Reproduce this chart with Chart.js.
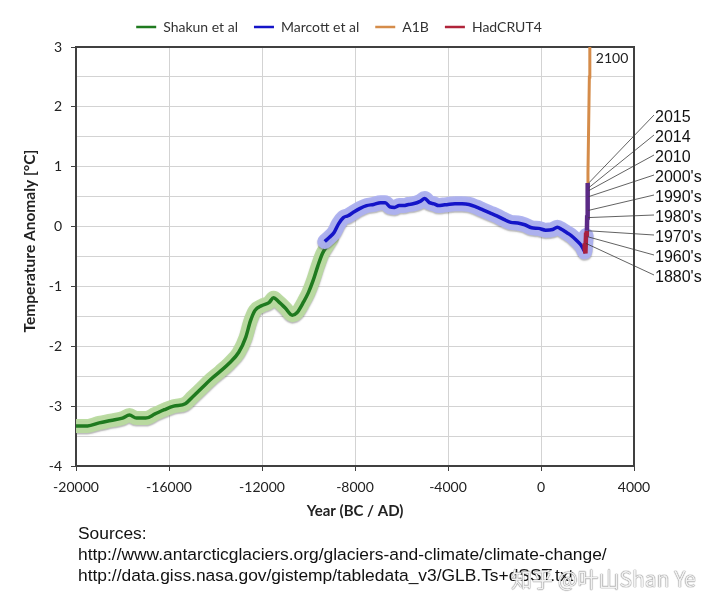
<!DOCTYPE html>
<html>
<head>
<meta charset="utf-8">
<script src="https://cdn.jsdelivr.net/npm/chart.js@4.4.1/dist/chart.umd.min.js"></script>
<style>
  html, body { margin: 0; padding: 0; background: #ffffff; }
  #wrap { position: relative; width: 720px; height: 608px; overflow: hidden; background: #fff; }
  #c { position: absolute; left: 0; top: 0; }
  #sources { position: absolute; left: 78px; top: 523px; font-family: "Liberation Sans", Arial, sans-serif; font-size: 17.4px; line-height: 21px; color: #111; white-space: nowrap; }
  #wm { position: absolute; left: 511px; top: 563px; font-family: "Noto Sans CJK SC", "Noto Sans", sans-serif; font-size: 21px; color: rgba(255,255,255,0.92); text-shadow: 0 0 1px rgba(90,90,90,0.9), 0 0 1px rgba(90,90,90,0.9); white-space: nowrap; }
</style>
</head>
<body>
<div id="wrap">
  <canvas id="c" width="720" height="608"></canvas>
  <div id="sources">Sources:<br>http://www.antarcticglaciers.org/glaciers-and-climate/climate-change/<br>http://data.giss.nasa.gov/gistemp/tabledata_v3/GLB.Ts+dSST.txt</div>
  <div id="wm">知乎 @叶山Shan Ye</div>
</div>
<script>
// ---- data ----
const seriesNames = ["Shakun et al", "Marcott et al", "A1B", "HadCRUT4"];

const shakunYears = [-20000,-19500,-19000,-18500,-18000,-17700,-17400,-17000,-16600,-16200,-15800,-15300,-15000,-14600,-14200,-13800,-13400,-13000,-12700,-12500,-12300,-12000,-11700,-11500,-11300,-11000,-10700,-10500,-10200,-10000,-9800,-9600,-9400,-9200,-9000];
const shakunTemps = [-3.33,-3.33,-3.28,-3.24,-3.2,-3.15,-3.2,-3.2,-3.13,-3.06,-3.0,-2.96,-2.85,-2.7,-2.55,-2.42,-2.28,-2.1,-1.85,-1.58,-1.4,-1.32,-1.27,-1.19,-1.25,-1.36,-1.48,-1.44,-1.25,-1.1,-0.9,-0.66,-0.45,-0.32,-0.2];

const marcottYears = [-9300,-9100,-8900,-8700,-8500,-8300,-8100,-7800,-7500,-7200,-6900,-6700,-6500,-6300,-6100,-5900,-5700,-5500,-5200,-5000,-4800,-4600,-4400,-4200,-4000,-3700,-3400,-3100,-2800,-2500,-2200,-1900,-1600,-1300,-1000,-700,-400,-100,200,500,700,900,1100,1300,1500,1700,1800,1880,1940];
const marcottTemps = [-0.25,-0.18,-0.1,0.05,0.15,0.18,0.23,0.3,0.35,0.37,0.4,0.4,0.33,0.32,0.35,0.35,0.37,0.38,0.42,0.47,0.4,0.38,0.35,0.36,0.37,0.38,0.38,0.37,0.33,0.28,0.23,0.18,0.12,0.07,0.06,0.03,-0.02,-0.03,-0.06,-0.05,-0.01,-0.05,-0.1,-0.15,-0.22,-0.3,-0.36,-0.42,-0.15];

const a1bYears = [2000, 2020, 2050, 2080, 2100];
const a1bTemps = [0.55, 0.9, 1.7, 2.5, 3.05];

const hadcrutYears = [1850,1880,1900,1910,1940,1965,1975,1985,1995,2005,2010,2014,2015];
const hadcrutTemps = [-0.4,-0.28,-0.4,-0.45,-0.1,-0.17,-0.07,0.15,0.27,0.5,0.6,0.65,0.73];

const annoLabels = ["2015","2014","2010","2000's","1990's","1980's","1970's","1960's","1880's"];
const annoYears  = [2015, 2014, 2010, 2005, 1995, 1985, 1975, 1965, 1885];
const annoTemps  = [0.73, 0.65, 0.6, 0.5, 0.27, 0.15, -0.07, -0.17, -0.28];

const endLabel = "2100";
const endYear = 2100;

const xMin = -20000, xMax = 4000, xStep = 4000;
const yMin = -4, yMax = 3, yStep = 0.5;

// ---- helpers ----
const pts = (xs, ys) => xs.map((x, i) => ({ x: x, y: ys[i] }));
const AXIS = '#404040';
const GRID = '#d3d3d3';
const FONT = 'Lato, "Open Sans", sans-serif';

const bandShadow = {
  id: 'bandShadow',
  beforeDatasetDraw(chart, args) {
    const ds = chart.data.datasets[args.index];
    if (ds._band) {
      const ctx = chart.ctx;
      ctx.save();
      ctx.shadowColor = 'rgba(90,90,90,0.45)';
      ctx.shadowOffsetY = 1.5;
      ctx.shadowBlur = 1.5;
    }
  },
  afterDatasetDraw(chart, args) {
    const ds = chart.data.datasets[args.index];
    if (ds._band) chart.ctx.restore();
  }
};

const annotations = {
  id: 'annotations',
  afterDraw(chart) {
    const ctx = chart.ctx;
    const xs = chart.scales.x, ys = chart.scales.y;
    const area = chart.chartArea;
    ctx.save();
    ctx.font = '14px ' + FONT;
    ctx.fillStyle = '#222';
    ctx.textBaseline = 'middle';
    ctx.textAlign = 'left';
    ctx.fillText(endLabel, xs.getPixelForValue(endYear) + 6, area.top + 11);
    ctx.font = '16px "Liberation Sans", Arial, sans-serif';
    const lx = area.right + 21;
    annoLabels.forEach((lab, i) => {
      const ly = area.top + 71 + i * 20;
      const px = xs.getPixelForValue(annoYears[i]) + 1;
      const py = ys.getPixelForValue(annoTemps[i]);
      ctx.strokeStyle = '#3a3a3a';
      ctx.lineWidth = 0.8;
      ctx.beginPath();
      ctx.moveTo(px, py);
      ctx.lineTo(lx - 1, ly - 3);
      ctx.stroke();
      ctx.fillStyle = '#111';
      ctx.fillText(lab, lx, ly);
    });
    ctx.restore();
  }
};

new Chart(document.getElementById('c'), {
  type: 'line',
  data: {
    datasets: [
      { label: seriesNames[0], data: pts(shakunYears, shakunTemps), borderColor: '#1f7a1f', backgroundColor: '#1f7a1f', borderWidth: 3.5, pointRadius: 0, cubicInterpolationMode: 'monotone', borderJoinStyle: 'round', order: 4 },
      { label: seriesNames[1], data: pts(marcottYears, marcottTemps), borderColor: '#1414c8', backgroundColor: '#1414c8', borderWidth: 3.5, pointRadius: 0, cubicInterpolationMode: 'monotone', borderJoinStyle: 'round', order: 2 },
      { label: seriesNames[2], data: pts(a1bYears, a1bTemps), borderColor: '#d58c4a', backgroundColor: '#d58c4a', borderWidth: 3, pointRadius: 0, order: 1 },
      { label: seriesNames[3], data: pts(hadcrutYears, hadcrutTemps), borderColor: '#b0243a', backgroundColor: '#b0243a', borderWidth: 4.5, pointRadius: 0, order: 0,
        segment: { borderColor: c => (c.p1.parsed.y > 0.05 ? '#5b2a86' : '#a8203e') } },
      { label: 'band-m', _band: true, data: pts(marcottYears, marcottTemps), borderColor: 'rgba(172,176,240,0.95)', borderWidth: 15, pointRadius: 0, cubicInterpolationMode: 'monotone', borderJoinStyle: 'round', borderCapStyle: 'round', order: 3 },
      { label: 'band-s', _band: true, data: pts(shakunYears, shakunTemps), borderColor: 'rgba(184,218,158,0.95)', borderWidth: 14, pointRadius: 0, cubicInterpolationMode: 'monotone', borderJoinStyle: 'round', borderCapStyle: 'round', order: 5 }
    ]
  },
  options: {
    responsive: false,
    animation: false,
    events: [],
    layout: { padding: { left: 0, right: 42, top: 4, bottom: 82 } },
    plugins: {
      tooltip: { enabled: false },
      legend: {
        display: true,
        position: 'top',
        labels: {
          usePointStyle: true,
          pointStyle: 'line',
          pointStyleWidth: 20,
          boxHeight: 14,
          padding: 16,
          color: '#333',
          font: { family: FONT, size: 14 },
          generateLabels(chart) {
            const items = Chart.defaults.plugins.legend.labels.generateLabels(chart);
            return items.filter(it => it.datasetIndex < 4)
              .sort((a, b) => a.datasetIndex - b.datasetIndex)
              .map(it => Object.assign(it, { lineWidth: 2.5, pointStyle: 'line' }));
          }
        }
      }
    },
    scales: {
      x: {
        type: 'linear', position: 'bottom', min: xMin, max: xMax,
        ticks: { stepSize: xStep, color: '#222', font: { family: FONT, size: 14 }, padding: 8, maxRotation: 0, autoSkip: false,
          callback: v => String(v) },
        grid: { color: GRID, lineWidth: 1, tickColor: AXIS, tickLength: 5 },
        border: { color: AXIS, width: 2 },
        title: { display: true, text: 'Year (BC / AD)', color: '#222', font: { family: FONT, size: 15, weight: 'bold' }, padding: { top: 2, bottom: 6 } },
        afterFit(s) { s.height = 60; }
      },
      xTop: {
        type: 'linear', position: 'top', min: xMin, max: xMax,
        ticks: { display: false },
        grid: { display: false, drawTicks: false },
        border: { display: true, color: AXIS, width: 2 },
        afterFit(s) { s.height = 3; }
      },
      y: {
        type: 'linear', position: 'left', min: yMin, max: yMax,
        ticks: { stepSize: yStep, autoSkip: false, color: '#222', font: { family: FONT, size: 14 }, padding: 9,
          callback: v => (Number.isInteger(v) ? String(v) : '') },
        grid: { color: GRID, lineWidth: 1, tickLength: 5,
          tickColor: c => (c.tick && Number.isInteger(c.tick.value) ? AXIS : 'rgba(0,0,0,0)') },
        border: { color: AXIS, width: 2 },
        title: { display: true, text: '\u2003\u2003\u2002Temperature Anomaly [°C]', color: '#222', font: { family: FONT, size: 15.5, weight: 'bold' }, padding: { top: 21, bottom: 0 } },
        afterFit(s) { s.width = 76; }
      },
      yRight: {
        type: 'linear', position: 'right', min: yMin, max: yMax,
        ticks: { display: false },
        grid: { display: false, drawTicks: false },
        border: { display: true, color: AXIS, width: 2 },
        afterFit(s) { s.width = 44; }
      }
    }
  },
  plugins: [bandShadow, annotations]
});
</script>
</body>
</html>
